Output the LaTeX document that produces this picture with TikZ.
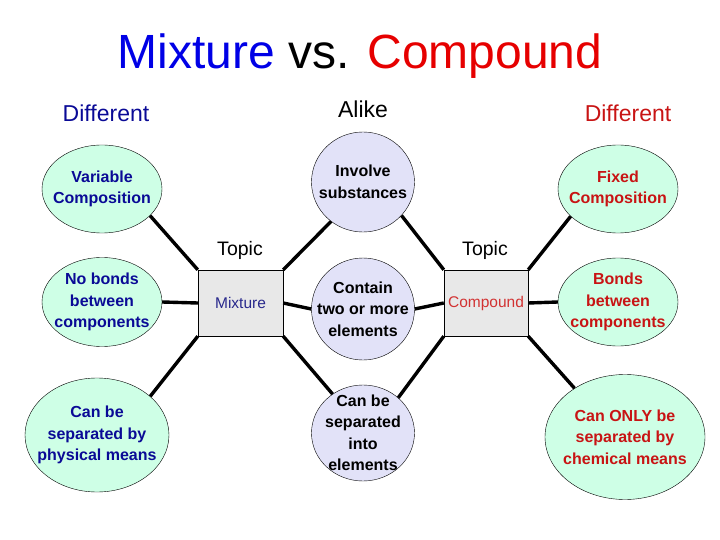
\documentclass[tikz,border=0pt]{standalone}
\usepackage{fontspec}
\setmainfont{Liberation Sans}
\usetikzlibrary{shapes.geometric}
\definecolor{mint}{RGB}{206,255,230}
\definecolor{lav}{RGB}{226,226,248}
\definecolor{boxgray}{RGB}{232,232,232}
\definecolor{navy}{RGB}{10,10,150}
\definecolor{dred}{RGB}{200,20,20}
\definecolor{tblue}{RGB}{0,0,230}
\definecolor{tred}{RGB}{230,0,0}
\definecolor{mixtxt}{RGB}{40,40,140}
\definecolor{comptxt}{RGB}{210,50,50}
\tikzset{
  ell/.style={ellipse, draw, thin, inner sep=0pt},
  grn/.style={ell, fill=mint},
  pur/.style={ell, fill=lav},
  etxt/.style={align=center, font=\bfseries\fontsize{16}{21.5}\selectfont},
  conn/.style={line width=3.4pt},
  topicbox/.style={draw, fill=boxgray, minimum width=85, minimum height=66, inner sep=0pt, font=\fontsize{15.5}{18}\selectfont},
  hdr/.style={anchor=base, font=\fontsize{23}{26}\selectfont},
  topiclbl/.style={anchor=base, font=\fontsize{19.5}{22}\selectfont}
}
\begin{document}
\begin{tikzpicture}[x=1pt,y=-1pt]
\useasboundingbox (0,0) rectangle (720,540);
% title
\node[anchor=base, font=\fontsize{48}{52}\selectfont] (title) at (360,69)
  {\textcolor{tblue}{Mixture} vs. \textcolor{tred}{Compound}};
\node[hdr, text=navy] (difl) at (106,122) {Different};
\node[hdr] (alike) at (363,118) {Alike};
\node[hdr, text=dred] (difr) at (628,122) {Different};
\node[topiclbl] (tl) at (240,255) {Topic};
\node[topiclbl] (tr) at (485,255) {Topic};
% boxes
\node[topicbox, text=mixtxt] (mix) at (240.5,303) {Mixture};
\node[topicbox, text=comptxt, minimum width=84] (comp) at (486,303) {Compound};
% ellipses left
\node[grn, minimum width=120, minimum height=88,
  label={[etxt, text=navy]center:Variable\\Composition}] (var) at (102,189) {};
\node[grn, minimum width=120, minimum height=89,
  label={[etxt, text=navy]center:No bonds\\between\\components}] (nob) at (102,302) {};
\node[grn, minimum width=144, minimum height=114,
  label={[etxt, text=navy]center:Can be\\separated by\\physical means}] (phys) at (97,435) {};
% middle
\node[pur, minimum width=103, minimum height=100,
  label={[etxt]center:Involve\\substances}] (inv) at (363,182) {};
\node[pur, minimum width=103, minimum height=102,
  label={[etxt]center:Contain\\two or more\\elements}] (cont) at (363,309) {};
\node[pur, minimum width=103, minimum height=96,
  label={[etxt]center:Can be\\separated\\into\\elements}] (sepi) at (363,433) {};
% right
\node[grn, minimum width=120, minimum height=88,
  label={[etxt, text=dred]center:Fixed\\Composition}] (fix) at (618,189) {};
\node[grn, minimum width=120, minimum height=88,
  label={[etxt, text=dred]center:Bonds\\between\\components}] (bond) at (618,302) {};
\node[grn, minimum width=160, minimum height=125,
  label={[etxt, text=dred]center:Can ONLY be\\separated by\\chemical means}] (chem) at (625,437) {};
% connectors
\draw[conn] (mix.north west) -- (var.-29);
\draw[conn] (mix.west) -- (nob.east);
\draw[conn] (mix.south west) -- (phys.36);
\draw[conn] (mix.north east) -- (inv.-129);
\draw[conn] (mix.east) -- (cont.west);
\draw[conn] (mix.south east) -- (sepi.128);
\draw[conn] (comp.north west) -- (inv.-41);
\draw[conn] (comp.west) -- (cont.east);
\draw[conn] (comp.south west) -- (sepi.45);
\draw[conn] (comp.north east) -- (fix.-150);
\draw[conn] (comp.east) -- (bond.west);
\draw[conn] (comp.south east) -- (chem.136);
\end{tikzpicture}
\end{document}
